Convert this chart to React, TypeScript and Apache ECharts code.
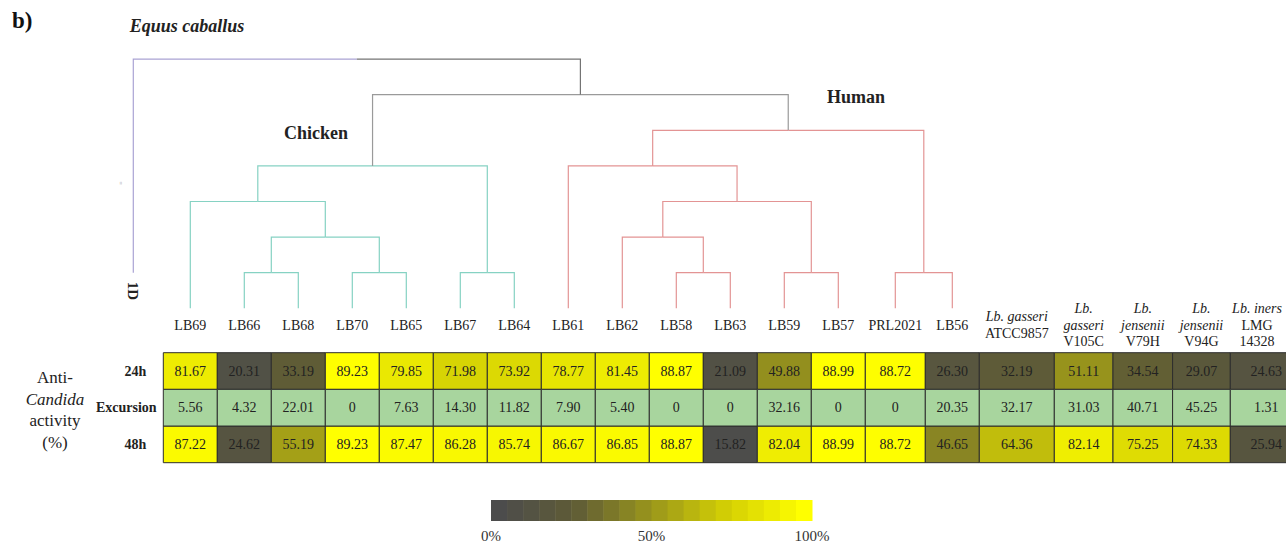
import React, { useEffect, useRef } from "react";
import * as echarts from "echarts";

// ---------------- data ----------------
const strains = [
  "LB69", "LB66", "LB68", "LB70", "LB65", "LB67", "LB64",
  "LB61", "LB62", "LB58", "LB63", "LB59", "LB57", "PRL2021", "LB56",
  "Lb. gasseri ATCC9857", "Lb. gasseri V105C", "Lb. jensenii V79H",
  "Lb. jensenii V94G", "Lb. iners LMG 14328",
];
const strainLabels = [
  "LB69", "LB66", "LB68", "LB70", "LB65", "LB67", "LB64",
  "LB61", "LB62", "LB58", "LB63", "LB59", "LB57", "PRL2021", "LB56",
  "{i|Lb. gasseri}\n{n|ATCC9857}",
  "{i|Lb.}\n{i|gasseri}\n{n|V105C}",
  "{i|Lb.}\n{i|jensenii}\n{n|V79H}",
  "{i|Lb.}\n{i|jensenii}\n{n|V94G}",
  "{i|Lb. iners}\n{n|LMG}\n{n|14328}",
];
const rowNames = ["24h", "Excursion", "48h"];
const values24h = [81.67, 20.31, 33.19, 89.23, 79.85, 71.98, 73.92, 78.77, 81.45, 88.87, 21.09, 49.88, 88.99, 88.72, 26.3, 32.19, 51.11, 34.54, 29.07, 24.63];
const valuesExcursion = [5.56, 4.32, 22.01, 0, 7.63, 14.3, 11.82, 7.9, 5.4, 0, 0, 32.16, 0, 0, 20.35, 32.17, 31.03, 40.71, 45.25, 1.31];
const values48h = [87.22, 24.62, 55.19, 89.23, 87.47, 86.28, 85.74, 86.67, 86.85, 88.87, 15.82, 82.04, 88.99, 88.72, 46.65, 64.36, 82.14, 75.25, 74.33, 25.94];
const colorbarTicks = ["0%", "50%", "100%"];

// dendrogram merges: [left child, right child, merge height]; numbers = strain index, "mK" = K-th merge, "E" = outgroup
const merges: [number | string, number | string, number][] = [
  [1, 2, 1], [3, 4, 1], [5, 6, 1], ["m0", "m1", 2], [0, "m3", 3], ["m4", "m2", 4],
  [9, 10, 1], [11, 12, 1], [13, 14, 1], [8, "m6", 2], ["m9", "m7", 3], [7, "m10", 4], ["m11", "m8", 5],
  ["m5", "m12", 6], ["E", "m13", 7],
];
const outgroupName = "Equus caballus";

// ---------------- layout / style ----------------
const COL_WIDTHS = [54, 54, 54, 54, 54, 54, 54, 54, 54, 54, 54, 54, 54, 60, 54, 75, 58.7, 59.6, 57.7, 72];
const OUTGROUP_X = -30;
const OUTGROUP_H = 1;
const ROW_LABEL_X = [-28, -37, -28];
const LABEL_MAX_X = 1257;
const FONT = '"Liberation Serif", "Times New Roman", serif';
const LINK_PALETTE = ["#86d2c3", "#e39494", "#9a9a9a", "#aaa3d4", "#747474"];
const HEAT_COLORS = ["#4c4c4c", "#5f5c36", "#9a961b", "#d4d004", "#ffff00"];
const EXCURSION_COLOR = "#a8d59e";

function hexToRgb(h: string) {
  const n = parseInt(h.slice(1), 16);
  return [(n >> 16) & 255, (n >> 8) & 255, n & 255];
}
function paletteAt(stops: string[], t: number) {
  const tt = Math.max(0, Math.min(1, t)) * (stops.length - 1);
  const i = Math.min(stops.length - 2, Math.floor(tt));
  const f = tt - i;
  const a = hexToRgb(stops[i]);
  const b = hexToRgb(stops[i + 1]);
  const c = a.map((v, k) => Math.round(v + (b[k] - v) * f));
  return `rgb(${c[0]},${c[1]},${c[2]})`;
}
function linkColors(k: number): [number, number] {
  if (k <= 5) return [0, 0];
  if (k <= 12) return [1, 1];
  if (k === 13) return [2, 2];
  return [3, 4];
}
const fmt = (v: number) => (v === 0 ? "0" : v.toFixed(2));

export default function App() {
  const ref = useRef<HTMLDivElement>(null);
  useEffect(() => {
    const chart = echarts.init(ref.current!, null, { renderer: "svg" });

    const edges = [0];
    COL_WIDTHS.forEach((w) => edges.push(edges[edges.length - 1] + w));
    const centers = COL_WIDTHS.map((w, i) => edges[i] + w / 2);

    const nodeX: Record<string, number> = {};
    const nodeH: Record<string, number> = {};
    const gx = (id: number | string) => (typeof id === "number" ? centers[id] : id === "E" ? OUTGROUP_X : nodeX[id]);
    const gh = (id: number | string) => (typeof id === "number" ? 0 : id === "E" ? OUTGROUP_H : nodeH[id]);
    const links: number[][] = [];
    merges.forEach(([a, b, h], k) => {
      const xa = gx(a), xb = gx(b), xm = (xa + xb) / 2;
      nodeX["m" + k] = xm;
      nodeH["m" + k] = h;
      const [ca, cb] = linkColors(k);
      links.push([xa, gh(a), xa, h, xm, h, ca]);
      links.push([xm, h, xb, h, xb, gh(b), cb]);
    });

    const mainCells: number[][] = [];
    [values24h, values48h].forEach((arr, j) => {
      const r = j === 0 ? 0 : 2;
      arr.forEach((v, i) => mainCells.push([edges[i], edges[i + 1], r, v]));
    });
    const excCells = valuesExcursion.map((v, i) => [edges[i], edges[i + 1], 1, v]);

    const cellRender = (fixed?: string) => (params: any, api: any) => {
      const x0 = api.value(0), x1 = api.value(1), r = api.value(2), v = api.value(3);
      const p0 = api.coord([x0, r]);
      const p1 = api.coord([x1, r + 1]);
      const y = Math.min(p0[1], p1[1]);
      const h = Math.abs(p1[1] - p0[1]);
      return {
        type: "group",
        children: [
          {
            type: "rect",
            shape: { x: p0[0], y, width: p1[0] - p0[0], height: h },
            style: { fill: fixed || api.visual("color"), stroke: "#2e2e2e", lineWidth: 1 },
          },
          {
            type: "text",
            x: (p0[0] + p1[0]) / 2,
            y: y + h / 2,
            style: { text: fmt(v), fill: "#222", fontSize: 14, fontFamily: FONT, align: "center", verticalAlign: "middle" },
          },
        ],
      };
    };

    const richBase = { fontSize: 14, fontFamily: FONT, fill: "#222", lineHeight: 16.5 };

    const graphics: any[] = [
      { type: "text", left: 12, top: 9, style: { text: "b)", fontSize: 23, fontWeight: "bold", fontFamily: FONT, fill: "#111" } },
      { type: "text", x: 187, y: 26, style: { text: outgroupName, fontSize: 18, fontWeight: "bold", fontStyle: "italic", fontFamily: FONT, fill: "#222", align: "center", verticalAlign: "middle" } },
      { type: "text", x: 316, y: 133, style: { text: "Chicken", fontSize: 18, fontWeight: "bold", fontFamily: FONT, fill: "#222", align: "center", verticalAlign: "middle" } },
      { type: "text", x: 856, y: 97, style: { text: "Human", fontSize: 18, fontWeight: "bold", fontFamily: FONT, fill: "#222", align: "center", verticalAlign: "middle" } },
      { type: "text", x: 133, y: 291, rotation: -Math.PI / 2, style: { text: "1D", fontSize: 15, fontWeight: "bold", fontFamily: FONT, fill: "#222", align: "center", verticalAlign: "middle" } },
      { type: "text", x: 121, y: 183, rotation: Math.PI / 2, style: { text: "=", fontSize: 6, fontFamily: FONT, fill: "#888", align: "center", verticalAlign: "middle" } },
      {
        type: "text", x: 55, y: 410,
        style: {
          text: "{n|Anti-}\n{i|Candida}\n{n|activity}\n{n|(%)}",
          align: "center", verticalAlign: "middle",
          rich: {
            n: { fontSize: 17, fontFamily: FONT, fill: "#222", lineHeight: 21.7 },
            i: { fontSize: 17, fontFamily: FONT, fill: "#222", lineHeight: 21.7, fontStyle: "italic" },
          },
        },
      },
    ];
    const nBlocks = 20, cbX = 491, cbW = 321, cbY = 500, cbH = 21;
    for (let i = 0; i < nBlocks; i++) {
      graphics.push({
        type: "rect",
        shape: { x: cbX + (i * cbW) / nBlocks, y: cbY, width: cbW / nBlocks + 0.5, height: cbH },
        style: { fill: paletteAt(HEAT_COLORS, i / (nBlocks - 1)) },
      });
    }
    colorbarTicks.forEach((t, i) => {
      graphics.push({ type: "text", x: cbX + (i * cbW) / 2, y: 536, style: { text: t, fontSize: 15, fontFamily: FONT, fill: "#333", align: "center", verticalAlign: "middle" } });
    });

    chart.setOption({
      animation: false,
      grid: [
        { left: 133.3, right: 0, top: 59.1, bottom: 546 - 308.3, outerBoundsMode: "none" },
        { left: 133.3, right: 0, top: 352.7, bottom: 546 - 462.7, outerBoundsMode: "none" },
      ],
      xAxis: [
        { type: "value", gridIndex: 0, min: OUTGROUP_X, max: 1122.7, show: false },
        { type: "value", gridIndex: 1, min: OUTGROUP_X, max: 1122.7, show: false },
      ],
      yAxis: [
        { type: "value", gridIndex: 0, min: 0, max: 7, show: false },
        { type: "value", gridIndex: 1, min: 0, max: 3, inverse: true, show: false },
      ],
      visualMap: [
        { type: "continuous", show: false, seriesIndex: 1, dimension: 3, min: 15, max: 89, inRange: { color: HEAT_COLORS } },
      ],
      series: [
        {
          type: "custom", name: "dendrogram", xAxisIndex: 0, yAxisIndex: 0, silent: true,
          data: links,
          renderItem: (params: any, api: any) => {
            const pts = [0, 2, 4].map((k) => api.coord([api.value(k), api.value(k + 1)]));
            return {
              type: "polyline",
              shape: { points: pts },
              style: { stroke: LINK_PALETTE[api.value(6)], lineWidth: 1.2, fill: "none" },
            };
          },
        },
        {
          type: "custom", name: "activity", xAxisIndex: 1, yAxisIndex: 1, silent: true,
          data: mainCells, renderItem: cellRender(),
        },
        {
          type: "custom", name: rowNames[1], xAxisIndex: 1, yAxisIndex: 1, silent: true,
          data: excCells, renderItem: cellRender(EXCURSION_COLOR),
        },
        {
          type: "custom", name: "strains", xAxisIndex: 1, yAxisIndex: 1, silent: true,
          data: centers.map((c, i) => [c, i]),
          renderItem: (params: any, api: any) => {
            const p = api.coord([api.value(0), -0.75]);
            return {
              type: "text", x: Math.min(p[0], LABEL_MAX_X), y: p[1],
              style: {
                text: strainLabels[params.dataIndex].includes("{") ? strainLabels[params.dataIndex] : "{n|" + strainLabels[params.dataIndex] + "}",
                align: "center", verticalAlign: "middle",
                rich: { n: { ...richBase }, i: { ...richBase, fontStyle: "italic" } },
              },
            };
          },
        },
        {
          type: "custom", name: "rows", xAxisIndex: 1, yAxisIndex: 1, silent: true,
          data: rowNames.map((n, r) => [ROW_LABEL_X[r], r]),
          renderItem: (params: any, api: any) => {
            const p = api.coord([api.value(0), api.value(1) + 0.5]);
            return {
              type: "text", x: p[0], y: p[1],
              style: { text: rowNames[params.dataIndex], fontSize: 14, fontWeight: "bold", fontFamily: FONT, fill: "#222", align: "center", verticalAlign: "middle" },
            };
          },
        },
      ],
      graphic: graphics,
    });
    return () => chart.dispose();
  }, []);
  return <div ref={ref} style={{ position: "fixed", left: 0, top: 0, width: 1286, height: 546, background: "#fff" }} />;
}
